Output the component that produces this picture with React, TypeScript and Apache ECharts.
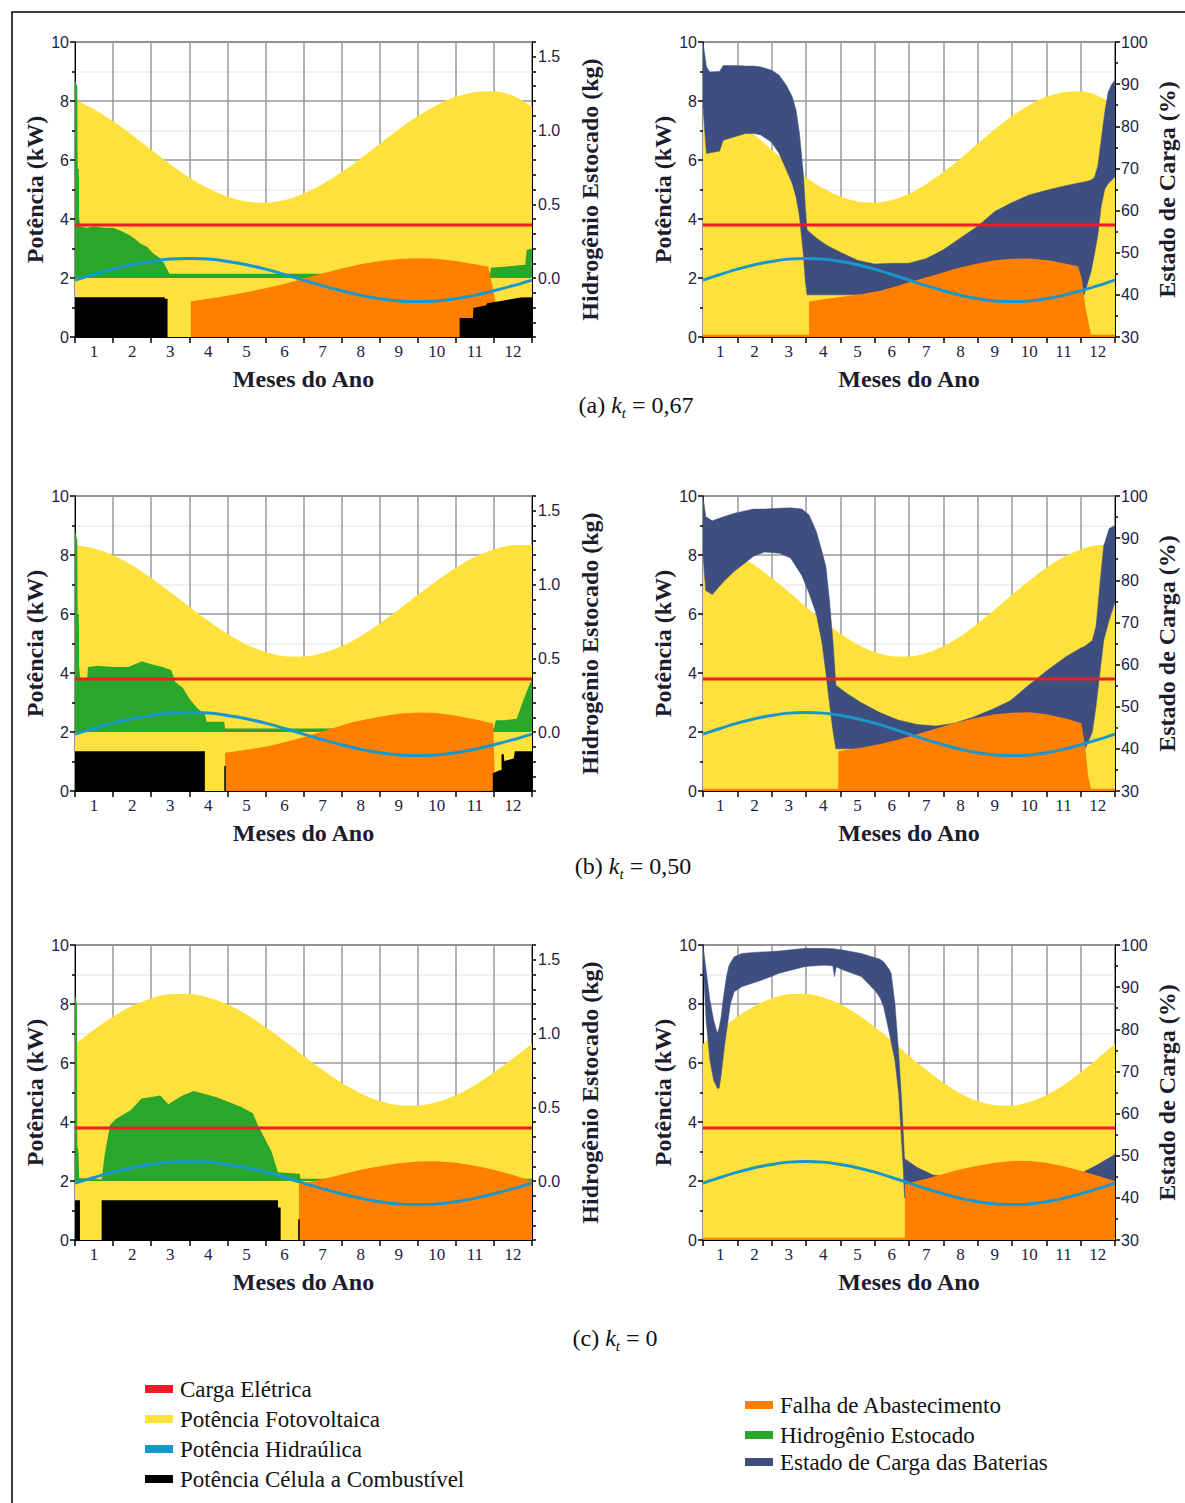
import React, { useEffect, useRef } from "react";
import * as echarts from "echarts";

// ---------- DATA ----------
const months = ["1", "2", "3", "4", "5", "6", "7", "8", "9", "10", "11", "12"];
const xHalf = [0, 0.5, 1, 1.5, 2, 2.5, 3, 3.5, 4, 4.5, 5, 5.5, 6, 6.5, 7, 7.5, 8, 8.5, 9, 9.5, 10, 10.5, 11, 11.5, 12];

// PV power (kW) for each kt case
const pvA = [8.04, 7.72, 7.31, 6.85, 6.35, 5.86, 5.41, 5.04, 4.76, 4.59, 4.55, 4.64, 4.86, 5.18, 5.59, 6.05, 6.55, 7.04, 7.49, 7.86, 8.14, 8.3, 8.33, 8.18, 7.82];
const pvB = [8.34, 8.22, 7.99, 7.65, 7.22, 6.75, 6.25, 5.77, 5.33, 4.97, 4.71, 4.57, 4.56, 4.68, 4.91, 5.25, 5.68, 6.15, 6.65, 7.13, 7.57, 7.93, 8.19, 8.33, 8.34];
const pvC = [6.65, 7.13, 7.57, 7.93, 8.19, 8.33, 8.34, 8.22, 7.99, 7.65, 7.22, 6.75, 6.25, 5.77, 5.33, 4.97, 4.71, 4.57, 4.56, 4.68, 4.91, 5.25, 5.68, 6.15, 6.65];

// Hydraulic power (kW)
const hydro = [1.93, 2.12, 2.3, 2.45, 2.56, 2.64, 2.66, 2.64, 2.56, 2.45, 2.3, 2.12, 1.93, 1.74, 1.57, 1.41, 1.3, 1.22, 1.2, 1.22, 1.3, 1.41, 1.57, 1.74, 1.93];

// Electric load (kW)
const loadX = [0, 12];
const loadKW = [3.8, 3.8];

// Stored hydrogen (kg) [month, kg]
const h2A = [[0, 1.34], [0.06, 1.3], [0.07, 0.74], [0.1, 0.74], [0.11, 0.4], [0.14, 0.35], [0.3, 0.34], [0.5, 0.35], [0.8, 0.34], [1.0, 0.34], [1.2, 0.32], [1.44, 0.29], [1.6, 0.26], [1.74, 0.23], [1.9, 0.21], [2.04, 0.17], [2.2, 0.14], [2.34, 0.1], [2.44, 0.05], [2.48, 0.028], [10.9, 0.028], [10.92, 0.07], [11.6, 0.084], [11.82, 0.09], [11.86, 0.19], [12, 0.2]];
const h2B = [[0, 1.36], [0.06, 1.3], [0.07, 0.8], [0.1, 0.8], [0.11, 0.44], [0.14, 0.36], [0.32, 0.36], [0.34, 0.44], [0.6, 0.45], [1.0, 0.44], [1.4, 0.44], [1.76, 0.48], [2.0, 0.46], [2.3, 0.44], [2.53, 0.42], [2.63, 0.34], [2.83, 0.3], [3.02, 0.22], [3.22, 0.16], [3.41, 0.12], [3.46, 0.07], [3.92, 0.07], [3.94, 0.024], [11.0, 0.024], [11.05, 0.08], [11.3, 0.08], [11.6, 0.09], [11.75, 0.2], [11.9, 0.3], [12, 0.36]];
const h2C = [[0, 1.26], [0.05, 1.2], [0.06, 0.24], [0.09, 0.2], [0.11, 0.02], [0.7, 0.01], [0.78, 0.18], [0.92, 0.38], [1.07, 0.42], [1.46, 0.48], [1.75, 0.56], [2.24, 0.58], [2.45, 0.52], [2.82, 0.58], [3.12, 0.61], [3.41, 0.59], [3.7, 0.57], [4.09, 0.53], [4.38, 0.5], [4.67, 0.46], [4.8, 0.38], [4.96, 0.3], [5.16, 0.2], [5.33, 0.06], [5.9, 0.05], [5.92, 0.016], [12, 0.016]];

// Fuel cell power (kW) [month, kW]
const fcA = [[0, 1.35], [2.35, 1.35], [2.36, 1.3], [2.43, 1.3], [2.43, 0], [10.1, 0], [10.1, 0.64], [10.45, 0.64], [10.46, 0.98], [10.8, 1.08], [10.82, 1.14], [11.1, 1.2], [11.4, 1.27], [11.7, 1.34], [12, 1.35]];
const fcB = [[0, 1.35], [3.41, 1.35], [3.41, 0], [3.92, 0], [3.92, 0.85], [3.96, 0.85], [3.96, 0], [10.97, 0], [10.97, 0.6], [11.15, 0.7], [11.2, 0.7], [11.2, 1.25], [11.26, 1.25], [11.27, 1.02], [11.52, 1.1], [11.55, 1.35], [12, 1.35]];
const fcC = [[0, 1.35], [0.13, 1.35], [0.13, 0], [0.7, 0], [0.7, 1.35], [5.33, 1.35], [5.33, 1.1], [5.4, 1.1], [5.4, 0], [5.86, 0], [5.86, 0.7], [5.9, 0.7], [5.9, 0], [12, 0]];

// Supply failure (kW) [month, kW]
const failAL = [[3.04, 0], [3.04, 1.2], [3.5, 1.3], [4, 1.4], [4.5, 1.52], [5, 1.65], [5.5, 1.8], [6, 1.98], [6.5, 2.15], [7, 2.32], [7.5, 2.47], [8, 2.58], [8.5, 2.64], [9, 2.67], [9.5, 2.65], [10, 2.58], [10.5, 2.47], [10.85, 2.38], [11.05, 1.15], [11.05, 0]];
const failAR = [[0, 0.08], [3.09, 0.08], [3.09, 1.2], [3.5, 1.28], [4, 1.36], [4.6, 1.45], [5.2, 1.58], [5.7, 1.75], [6.2, 1.92], [6.8, 2.12], [7.3, 2.3], [7.9, 2.47], [8.5, 2.6], [9, 2.65], [9.5, 2.66], [10.05, 2.6], [10.5, 2.5], [10.92, 2.4], [11.03, 2.0], [11.14, 1.0], [11.3, 0.08], [12, 0.08]];
const failBL = [[3.94, 0], [3.94, 1.3], [4.4, 1.38], [5, 1.5], [5.35, 1.6], [6, 1.82], [6.32, 1.95], [7, 2.22], [7.3, 2.34], [8, 2.52], [8.5, 2.62], [9, 2.66], [9.5, 2.64], [10, 2.55], [10.5, 2.43], [10.98, 2.29], [11.02, 0.6], [11.02, 0]];
const failBR = [[0, 0.08], [3.94, 0.08], [3.94, 1.35], [4.6, 1.47], [5.2, 1.6], [5.7, 1.75], [6.3, 1.95], [6.8, 2.12], [7.3, 2.3], [7.9, 2.47], [8.5, 2.6], [9, 2.65], [9.5, 2.67], [10, 2.6], [10.6, 2.45], [11.02, 2.3], [11.13, 1.5], [11.22, 0.5], [11.3, 0.08], [12, 0.08]];
const failCL = [[5.88, 0], [5.88, 1.9], [6.5, 2.06], [7, 2.22], [7.5, 2.38], [8, 2.5], [8.5, 2.6], [9, 2.66], [9.5, 2.67], [10, 2.62], [10.5, 2.52], [11, 2.38], [11.5, 2.2], [12, 2.0]];
const failCR = [[0, 0.08], [5.88, 0.08], [5.88, 1.9], [6.5, 2.08], [7, 2.24], [7.5, 2.4], [8, 2.52], [8.5, 2.62], [9, 2.68], [9.5, 2.68], [10, 2.62], [10.5, 2.5], [11, 2.35], [11.5, 2.18], [12, 2.0]];

// Battery state of charge band (%): month, lower and upper envelopes
const socXA = [0, 0.1, 0.2, 0.48, 0.59, 0.92, 1.24, 1.46, 1.67, 2.0, 2.22, 2.43, 2.6, 2.71, 2.81, 2.92, 2.98, 3.03, 3.3, 3.6, 4.0, 4.5, 5.0, 5.5, 6.0, 6.5, 7.0, 7.5, 8.0, 8.5, 9.0, 9.5, 10.0, 10.5, 10.97, 11.1, 11.3, 11.4, 11.5, 11.6, 11.7, 11.8, 11.9, 12];
const socHiA = [100, 94.1, 92.9, 93.0, 94.4, 94.4, 94.3, 94.3, 94.1, 93.3, 92.1, 89.7, 87.0, 83.8, 78.3, 68.9, 60.9, 55.4, 53.5, 51.8, 50.1, 48.2, 47.3, 47.5, 47.5, 48.6, 50.7, 53.5, 56.3, 59.8, 61.9, 63.7, 64.8, 65.8, 66.6, 66.8, 67.2, 67.8, 70.6, 76.9, 83.2, 88.1, 89.9, 90.9];
const socLoA = [84.6, 73.5, 73.7, 74.1, 76.7, 77.5, 78.3, 78.3, 78.0, 76.2, 73.5, 69.6, 66.4, 63.3, 58.6, 49.9, 43.3, 40, 40, 40, 40, 40, 40, 40, 40, 40, 40, 40, 40, 40, 40, 40, 40, 40, 40, 40, 45.4, 49.6, 54.2, 61.2, 65.0, 66.4, 67.2, 68.0];

const socXB = [0, 0.08, 0.27, 0.6, 0.92, 1.25, 1.47, 1.79, 2.23, 2.55, 2.88, 3.09, 3.3, 3.47, 3.58, 3.68, 3.79, 3.87, 4.2, 4.6, 5.15, 5.7, 6.24, 6.78, 7.32, 7.86, 8.4, 8.95, 9.5, 10.04, 10.58, 11.02, 11.13, 11.34, 11.45, 11.56, 11.67, 11.83, 12];
const socHiB = [100, 95.1, 94.1, 95.1, 95.9, 96.5, 96.9, 96.9, 97.1, 97.2, 96.9, 95.5, 91.6, 86.7, 83.2, 75.5, 65.0, 55.1, 53.1, 51.0, 48.6, 46.8, 45.8, 45.4, 46.1, 47.5, 49.3, 51.4, 55.2, 58.7, 61.9, 64.0, 64.4, 65.7, 69.2, 79.0, 88.1, 92.3, 93.0];
const socLoB = [86.0, 77.6, 76.6, 79.7, 82.2, 84.3, 85.7, 86.7, 86.4, 85.3, 81.1, 76.9, 72.0, 65.0, 58.0, 51.0, 44.0, 40, 40, 40, 40, 40, 40, 40, 40, 40, 40, 40, 40, 40, 40, 40, 40, 44.0, 50.3, 58.0, 65.7, 70.6, 74.8];

const socXC = [0, 0.09, 0.2, 0.31, 0.42, 0.47, 0.53, 0.58, 0.64, 0.69, 0.75, 0.8, 0.91, 1.13, 1.57, 1.89, 2.22, 2.98, 3.52, 3.78, 3.83, 3.88, 4.07, 4.61, 5.04, 5.16, 5.26, 5.43, 5.48, 5.59, 5.7, 5.77, 5.83, 5.87, 6.24, 6.7, 7.5, 8.5, 9.5, 10.5, 11.0, 11.5, 12];
const socHiC = [100, 94.1, 87.0, 82.2, 79.0, 80.4, 83.0, 86.7, 90.1, 92.7, 94.9, 95.8, 97.2, 98.0, 98.3, 98.4, 98.6, 99.2, 99.2, 99.1, 99.1, 99.0, 98.8, 98.0, 96.9, 96.6, 96.0, 94.1, 93.3, 86.1, 74.3, 65.0, 55.9, 49.3, 47.2, 45.4, 44.7, 44.4, 44.4, 44.7, 45.8, 47.9, 50.3];
const socLoC = [96.5, 82.2, 72.7, 67.9, 66.0, 66.0, 69.2, 72.7, 76.9, 79.8, 83.2, 86.1, 88.9, 90.1, 91.3, 92.2, 93.3, 94.9, 95.2, 95.1, 92.5, 94.8, 94.1, 92.5, 88.9, 87.4, 85.4, 79.0, 76.9, 72.7, 64.8, 55.3, 47.4, 40, 40, 40, 40, 40, 40, 40, 40, 40, 40];

// Axis ticks / labels
const h2LabelValues = [0, 0.5, 1.0, 1.5];
const captionTags = ["(a)", "(b)", "(c)"];
const ktValues = ["0,67", "0,50", "0"];

const NAMES = {
  load: "Carga Elétrica",
  pv: "Potência Fotovoltaica",
  hydro: "Potência Hidraúlica",
  fc: "Potência Célula a Combustível",
  fail: "Falha de Abastecimento",
  h2: "Hidrogênio Estocado",
  soc: "Estado de Carga das Baterias",
};

// ---------- STYLE ----------
const COLORS = {
  load: "#ee1d25",
  pv: "#fee13b",
  hydro: "#1897cc",
  fc: "#000000",
  fail: "#ff8000",
  h2: "#2aa72a",
  soc: "#3e4f7f",
};
const SERIF = "'Liberation Serif', 'Times New Roman', serif";
const SANS = "'Liberation Sans', Arial, sans-serif";
const TITLE_COLOR = "#1c1c2c";
const TICK_COLOR = "#222244";
const PLOT_H = 295;

const panels: any[] = [
  { left: 75, top: 42, width: 457, kind: "h2", pv: pvA, h2: h2A, fc: fcA, fail: failAL },
  { left: 703, top: 42, width: 412, kind: "soc", pv: pvA, socX: socXA, socHi: socHiA, socLo: socLoA, fail: failAR },
  { left: 75, top: 496, width: 457, kind: "h2", pv: pvB, h2: h2B, fc: fcB, fail: failBL },
  { left: 703, top: 496, width: 412, kind: "soc", pv: pvB, socX: socXB, socHi: socHiB, socLo: socLoB, fail: failBR },
  { left: 75, top: 945, width: 457, kind: "h2", pv: pvC, h2: h2C, fc: fcC, fail: failCL },
  { left: 703, top: 945, width: 412, kind: "soc", pv: pvC, socX: socXC, socHi: socHiC, socLo: socLoC, fail: failCR },
];

const captionPos = [
  { x: 636, y: 405 },
  { x: 633, y: 866 },
  { x: 615, y: 1338 },
];

function areaLine(name: string, data: any[], color: string, xi: number, yi: number, z: number, extra: any = {}) {
  return {
    type: "line",
    name,
    data,
    xAxisIndex: xi,
    yAxisIndex: yi,
    z,
    symbol: "none",
    showSymbol: false,
    silent: true,
    lineStyle: { width: 0, color, opacity: 0 },
    itemStyle: { color },
    areaStyle: { color, opacity: 1 },
    ...extra,
  };
}

function buildOption() {
  const grid: any[] = [];
  const xAxis: any[] = [];
  const yAxis: any[] = [];
  const series: any[] = [];

  panels.forEach((p, i) => {
    grid.push({
      left: p.left,
      top: p.top,
      width: p.width,
      height: PLOT_H,
      show: true,
      borderColor: "#000",
      borderWidth: 1,
      backgroundColor: "rgba(0,0,0,0)",
      outerBoundsMode: "none",
    });

    xAxis.push({
      type: "category",
      gridIndex: i,
      data: months,
      boundaryGap: true,
      position: "bottom",
      axisLine: { show: true, lineStyle: { color: "#000", width: 1 } },
      axisTick: { show: true, interval: 0, length: 6, lineStyle: { color: "#000", width: 1.5 } },
      axisLabel: { interval: 0, fontFamily: SERIF, fontSize: 17, color: TICK_COLOR, margin: 6 },
      splitLine: { show: true, interval: 0, lineStyle: { color: "#9a9a9a", width: 1.5 } },
      name: "Meses do Ano",
      nameLocation: "middle",
      nameGap: 30,
      nameTextStyle: { fontFamily: SERIF, fontWeight: "bold", fontSize: 24, color: TITLE_COLOR },
      nameMoveOverlap: false,
    });
    xAxis.push({ type: "value", gridIndex: i, min: 0, max: 12, show: false });

    yAxis.push({
      type: "value",
      gridIndex: i,
      position: "left",
      min: 0,
      max: 10,
      interval: 2,
      axisLine: { show: true, lineStyle: { color: "#000", width: 1 } },
      axisTick: { show: true, length: 5, lineStyle: { color: "#000", width: 1.5 } },
      minorTick: { show: true, splitNumber: 2, length: 3, lineStyle: { color: "#000", width: 1.5 } },
      axisLabel: { fontFamily: SANS, fontSize: 16, color: TICK_COLOR, margin: 6 },
      splitLine: { show: true, lineStyle: { color: "#9a9a9a", width: 1.5 } },
      minorSplitLine: { show: true, lineStyle: { color: "#ececec", width: 1.5 } },
      name: "Potência (kW)",
      nameLocation: "middle",
      nameRotate: 90,
      nameGap: 28,
      nameTextStyle: { fontFamily: SERIF, fontWeight: "bold", fontSize: 24, color: TITLE_COLOR },
      nameMoveOverlap: false,
    });

    if (p.kind === "h2") {
      yAxis.push({
        type: "value",
        gridIndex: i,
        position: "right",
        min: -0.4,
        max: 1.6,
        interval: 0.1,
        axisLine: { show: true, lineStyle: { color: "#000", width: 1 } },
        axisTick: { show: true, length: 4, lineStyle: { color: "#000", width: 1.5 } },
        axisLabel: {
          fontFamily: SANS,
          fontSize: 16,
          color: TICK_COLOR,
          margin: 6,
          formatter: (v: number) => {
            const hit = h2LabelValues.find((t) => Math.abs(t - v) < 1e-6);
            return hit === undefined ? "" : hit.toFixed(1);
          },
        },
        splitLine: { show: false },
        name: "Hidrogênio Estocado (kg)",
        nameLocation: "middle",
        nameRotate: 90,
        nameGap: 46,
        nameTextStyle: { fontFamily: SERIF, fontWeight: "bold", fontSize: 24, color: TITLE_COLOR },
        nameMoveOverlap: false,
      });
    } else {
      yAxis.push({
        type: "value",
        gridIndex: i,
        position: "right",
        min: 30,
        max: 100,
        interval: 10,
        axisLine: { show: true, lineStyle: { color: "#000", width: 1 } },
        axisTick: { show: true, length: 5, lineStyle: { color: "#000", width: 1.5 } },
        minorTick: { show: true, splitNumber: 2, length: 3, lineStyle: { color: "#000", width: 1.5 } },
        axisLabel: { fontFamily: SANS, fontSize: 16, color: TICK_COLOR, margin: 6 },
        splitLine: { show: false },
        name: "Estado de Carga (%)",
        nameLocation: "middle",
        nameRotate: 90,
        nameGap: 40,
        nameTextStyle: { fontFamily: SERIF, fontWeight: "bold", fontSize: 24, color: TITLE_COLOR },
        nameMoveOverlap: false,
      });
    }

    const xv = 2 * i + 1;
    const yl = 2 * i;
    const yr = 2 * i + 1;

    series.push(areaLine(NAMES.pv, xHalf.map((x, k) => [x, p.pv[k]]), COLORS.pv, xv, yl, 1, { smooth: 0.3 }));

    if (p.kind === "h2") {
      series.push(areaLine(NAMES.h2, p.h2, COLORS.h2, xv, yr, 2));
    } else {
      const sx: number[] = p.socX;
      const lo: number[] = p.socLo;
      const hi: number[] = p.socHi;
      series.push({
        type: "custom",
        name: NAMES.soc,
        xAxisIndex: xv,
        yAxisIndex: yr,
        z: 2,
        silent: true,
        clip: true,
        encode: { x: 0, y: [1, 2] },
        data: sx.map((x, k) => [x, lo[k], hi[k]]),
        itemStyle: { color: COLORS.soc },
        renderItem: (params: any, api: any) => {
          if (params.dataIndex !== 0) return null;
          const pts: number[][] = [];
          for (let k = 0; k < sx.length; k++) pts.push(api.coord([sx[k], hi[k]]));
          for (let k = sx.length - 1; k >= 0; k--) pts.push(api.coord([sx[k], lo[k]]));
          return {
            type: "polygon",
            shape: { points: pts },
            style: { fill: COLORS.soc, stroke: COLORS.soc, lineWidth: 0.5 },
          };
        },
      });
    }

    series.push(areaLine(NAMES.fail, p.fail, COLORS.fail, xv, yl, 3));

    if (p.kind === "h2") {
      series.push(areaLine(NAMES.fc, p.fc, COLORS.fc, xv, yl, 4));
    }

    series.push({
      type: "line",
      name: NAMES.load,
      data: loadX.map((x, k) => [x, loadKW[k]]),
      xAxisIndex: xv,
      yAxisIndex: yl,
      z: 5,
      symbol: "none",
      showSymbol: false,
      silent: true,
      lineStyle: { color: COLORS.load, width: 3 },
      itemStyle: { color: COLORS.load },
    });

    series.push({
      type: "line",
      name: NAMES.hydro,
      data: xHalf.map((x, k) => [x, hydro[k]]),
      xAxisIndex: xv,
      yAxisIndex: yl,
      z: 6,
      smooth: 0.3,
      symbol: "none",
      showSymbol: false,
      silent: true,
      lineStyle: { color: COLORS.hydro, width: 3 },
      itemStyle: { color: COLORS.hydro },
    });
  });

  const graphic: any[] = [];
  graphic.push({
    type: "rect",
    silent: true,
    shape: { x: 12, y: 12, width: 1200, height: 1520 },
    style: { fill: "none", stroke: "#000", lineWidth: 1.5 },
  });

  captionTags.forEach((tag, i) => {
    graphic.push({
      type: "text",
      silent: true,
      x: captionPos[i].x,
      y: captionPos[i].y,
      style: {
        text: tag + " {k|k}{t|t} = " + ktValues[i],
        fontFamily: SERIF,
        fontSize: 24,
        fill: "#111",
        align: "center",
        verticalAlign: "middle",
        lineHeight: 30,
        rich: {
          k: { fontFamily: SERIF, fontSize: 24, fontStyle: "italic", fill: "#111", lineHeight: 30 },
          t: { fontFamily: SERIF, fontSize: 15, fontStyle: "italic", fill: "#111", lineHeight: 12, verticalAlign: "bottom" },
        },
      },
    });
  });

  const legendLeft = [
    { name: NAMES.load, color: COLORS.load, y: 1389 },
    { name: NAMES.pv, color: COLORS.pv, y: 1419 },
    { name: NAMES.hydro, color: COLORS.hydro, y: 1449 },
    { name: NAMES.fc, color: COLORS.fc, y: 1479 },
  ];
  const legendRight = [
    { name: NAMES.fail, color: COLORS.fail, y: 1405 },
    { name: NAMES.h2, color: COLORS.h2, y: 1435 },
    { name: NAMES.soc, color: COLORS.soc, y: 1462 },
  ];
  const addLegend = (items: any[], x: number) => {
    items.forEach((it) => {
      graphic.push({
        type: "rect",
        silent: true,
        shape: { x, y: it.y - 4, width: 28, height: 8 },
        style: { fill: it.color },
      });
      graphic.push({
        type: "text",
        silent: true,
        x: x + 35,
        y: it.y,
        style: {
          text: it.name,
          fontFamily: SERIF,
          fontSize: 23,
          fill: "#111",
          align: "left",
          verticalAlign: "middle",
        },
      });
    });
  };
  addLegend(legendLeft, 145);
  addLegend(legendRight, 745);

  return {
    animation: false,
    backgroundColor: "#ffffff",
    grid,
    xAxis,
    yAxis,
    series,
    graphic,
  };
}

export default function App() {
  const ref = useRef<HTMLDivElement>(null);
  useEffect(() => {
    if (!ref.current) return;
    const chart = echarts.init(ref.current, null, { renderer: "svg" });
    chart.setOption(buildOption() as any);
    return () => {
      chart.dispose();
    };
  }, []);
  return (
    <div
      ref={ref}
      style={{ position: "absolute", left: 0, top: 0, width: 1185, height: 1503, background: "#fff" }}
    />
  );
}
